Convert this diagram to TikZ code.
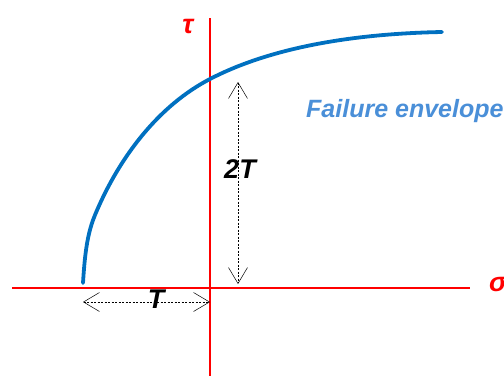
\documentclass[tikz,border=0pt]{standalone}
\usepackage{fontspec}
\setmainfont{Liberation Sans}
\usetikzlibrary{arrows.meta}
\definecolor{curveblue}{HTML}{0070C0}
\definecolor{labelblue}{HTML}{4A8FD8}
\definecolor{axisred}{HTML}{FF0000}
\tikzset{
  axisline/.style={draw=axisred, line width=1.3pt},
  dimarrow/.style={draw=black, line width=0.5pt, dash pattern=on 2pt off 1.5pt,
    {Straight Barb[length=16pt,width=19pt,line width=0.5pt]}-{Straight Barb[length=16pt,width=19pt,line width=0.5pt]}},
  axislabel/.style={text=axisred, font=\fontsize{27}{30}\selectfont\bfseries\itshape, inner sep=0pt},
  dimlabel/.style={text=black, font=\fontsize{27}{32}\selectfont\bfseries\itshape, inner sep=0pt},
}
\begin{document}
\begin{tikzpicture}[x=1pt,y=-1pt]
\useasboundingbox (0,0) rectangle (504,376);
% axes
\coordinate (vtop) at (210,18);
\coordinate (vbot) at (210,376);
\coordinate (hleft) at (12,288);
\coordinate (hright) at (470,288);
\draw[axisline] (vtop) -- (vbot);
\draw[axisline] (hleft) -- (hright);
\node[axislabel, anchor=base] (tau) at (188,33) {τ};
\node[axislabel, anchor=base west] (sigma) at (489,291) {σ};
% failure envelope
\coordinate (c0) at (83,283);
\coordinate (c1) at (95,215);
\coordinate (c2) at (210,79);
\coordinate (c3) at (442,32);
\draw[curveblue, line width=3.8pt, line cap=round]
  (c0) .. controls (85,250) and (88,232) .. (c1)
       .. controls (120,155) and (160,105) .. (c2)
       .. controls (260,53) and (335,34) .. (c3);
\node[text=labelblue, font=\fontsize{25}{30}\selectfont\bfseries\itshape, inner sep=0pt, anchor=base west] (fe) at (306,117) {Failure envelope};
% dimension arrows
\coordinate (va) at (238,82);
\coordinate (vb) at (238,284);
\draw[dimarrow] (va) -- (vb);
\node[dimlabel, anchor=base] (twoT) at (240,178) {2T};
\coordinate (ha) at (83,302);
\coordinate (hb) at (210,302);
\draw[dimarrow] (ha) -- (hb);
\node[dimlabel, anchor=base] (oneT) at (156,308) {T};
\end{tikzpicture}
\end{document}
